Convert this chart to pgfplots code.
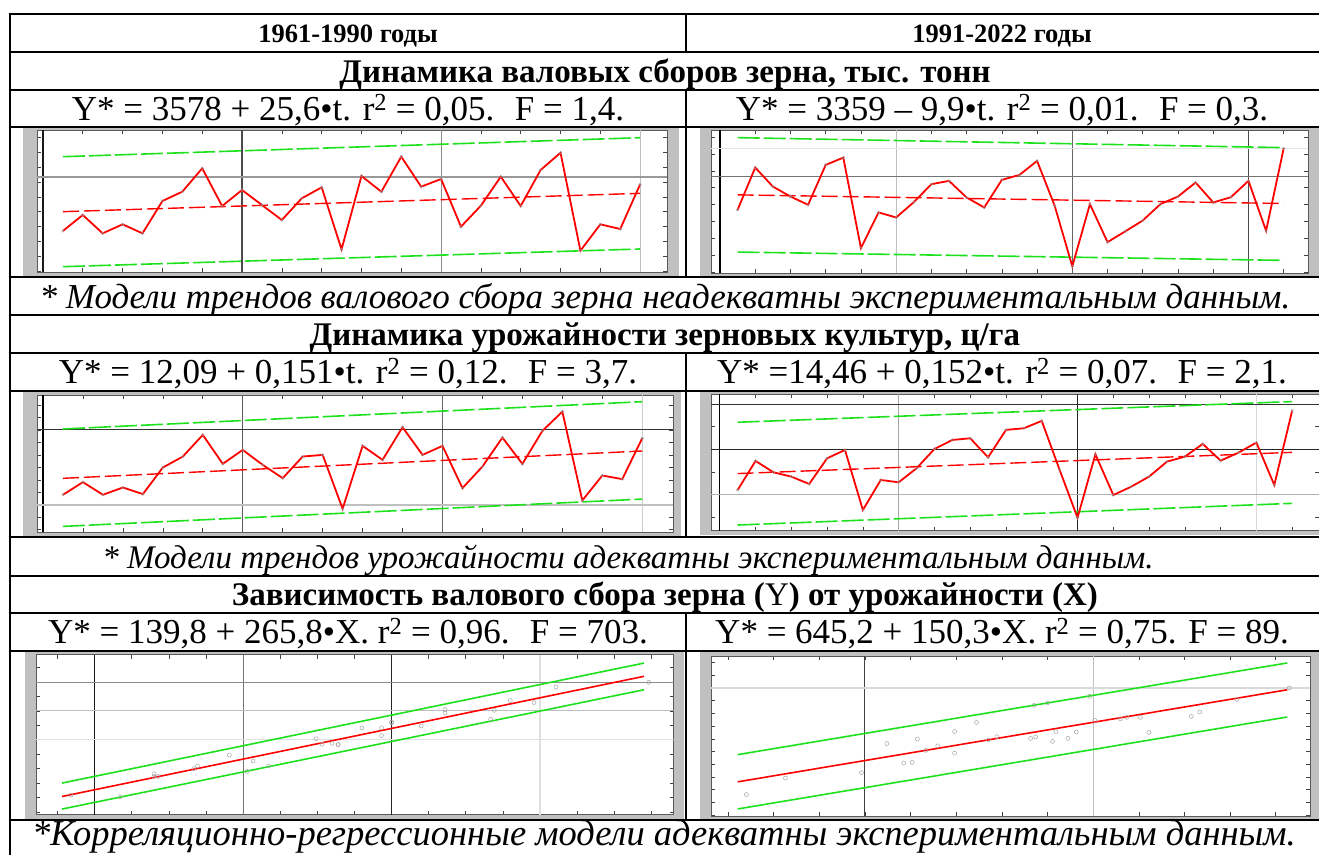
\documentclass[border=0pt]{standalone}
\usepackage{fontspec}
\setmainfont{Liberation Serif}
\usepackage{pgfplots}
\usepackage{pgfplotstable}
\pgfplotsset{compat=1.18}
\definecolor{gcol}{RGB}{30,225,30}
\definecolor{frm}{RGB}{192,192,192}

% 1961-1990: t, gross harvest Y (thous. t), yield X (c/ha)
\pgfplotstableread{
t Y X
1 2821 9.60
2 3469 11.63
3 2726 9.60
4 3091 10.77
5 2726 9.71
6 4036 13.97
7 4414 15.73
8 5359 19.20
9 3833 14.56
10 4481 16.80
11 3874 14.40
12 3266 12.27
13 4144 15.73
14 4589 16.00
15 2078 7.36
16 5048 17.44
17 4414 15.20
18 5831 20.43
19 4616 16.00
20 4927 17.44
21 2996 10.67
22 3847 14.13
23 5021 18.77
24 3833 14.56
25 5291 19.84
26 5993 22.93
27 2024 8.69
28 3091 12.69
29 2902 12.11
30 4711 18.67
}\tabA
% 1991-2022
\pgfplotstableread{
t Y X
1 2818 10.96
2 4317 17.41
3 3644 14.89
4 3290 13.93
5 2995 12.30
6 4411 18.00
7 4671 19.85
8 1461 6.52
9 2724 13.19
10 2547 12.67
11 3089 15.78
12 3727 20.07
13 3845 22.07
14 3255 22.44
15 2901 18.22
16 3880 24.30
17 4057 24.67
18 4553 26.30
19 2960 15.41
20 812 4.81
21 3019 18.89
22 1673 9.85
23 2051 11.70
24 2440 13.93
25 3019 17.26
26 3290 18.37
27 3786 21.19
28 3078 17.48
29 3266 19.26
30 3845 21.48
31 2075 12.07
32 5001 28.59
}\tabB

\pgfplotsset{
  mini/.style={scale only axis, anchor=north west,
    axis background/.style={fill=white},
    axis line style={draw=black!65, line width=0.9pt},
    tick style={draw=black!75, line width=0.6pt}, major tick length=4pt,
    xticklabels={}, yticklabels={}, clip=true},
  dat/.style={red, line width=1.8pt, mark=o, mark size=1.3pt,
    mark options={draw=gray!80, fill=white, line width=0.4pt, solid}},
  trend/.style={red, line width=1.4pt, dash pattern=on 16pt off 5pt},
  band/.style={gcol, line width=1.6pt, dash pattern=on 22pt off 4pt},
  rline/.style={red, line width=1.6pt},
  gline/.style={gcol, line width=1.6pt},
  scat/.style={only marks, mark=o, mark size=2pt, mark options={draw=gray!70, line width=0.5pt}},
  grd/.style={line width=1.1pt, forget plot},
}

\newcommand{\hd}{\fontsize{26.5}{30}\selectfont\bfseries}
\newcommand{\tl}{\fontsize{33}{36}\selectfont\bfseries}
\newcommand{\eqf}{\fontsize{35}{38}\selectfont}
\newcommand{\nta}{\fontsize{35}{40}\selectfont\itshape}
\newcommand{\ntb}{\fontsize{33}{40}\selectfont\itshape}
\newcommand{\ntc}{\fontsize{36.5}{40}\selectfont\itshape}

\begin{document}
\begin{tikzpicture}[x=1pt,y=1pt]
\useasboundingbox (0pt,0pt) rectangle (1319pt,-855pt);
\fill[white] (0pt,0pt) rectangle (1319pt,-855pt);

% ---------- chart frames ----------
\fill[frm] (23pt,-128pt) rectangle (679pt,-276pt);
\fill[frm] (700pt,-128pt) rectangle (1319pt,-277pt);
\fill[frm] (23pt,-391pt) rectangle (681pt,-536pt);
\fill[frm] (700pt,-392pt) rectangle (1319pt,-535pt);
\fill[frm] (25pt,-652pt) rectangle (684pt,-820pt);
\fill[frm] (700pt,-652pt) rectangle (1319pt,-820pt);

% ---------- C1 ----------
\begin{axis}[mini, at={(37pt,-130pt)}, width=630pt, height=142pt,
  xmin=-0.3, xmax=31.35, ymin=1160, ymax=6912, xtick distance=2, ytick distance=600]
\addplot[grd, black!90] coordinates {(0,1160) (0,6912)};
\addplot[grd, black!70] coordinates {(10,1160) (10,6912)};
\addplot[grd, black!45] coordinates {(20,1160) (20,6912)};
\addplot[grd, black!25] coordinates {(30,1160) (30,6912)};
\addplot[grd, black!40, line width=1.5pt] coordinates {(-0.3,5000) (31.35,5000)};
\addplot[band] coordinates {(1,5831) (30,6601)};
\addplot[band] coordinates {(1,1376) (30,2092)};
\addplot[trend] coordinates {(1,3604) (30,4346)};
\addplot[dat] table[x=t, y=Y] {\tabA};
\end{axis}

% ---------- C2 ----------
\begin{axis}[mini, at={(711pt,-130pt)}, width=597pt, height=143pt,
  xmin=-0.51, xmax=33.38, ymin=576, ymax=5650, xtick distance=2, ytick distance=600]
\addplot[grd, black] coordinates {(0,576) (0,5650)};
\addplot[grd, black!25] coordinates {(10,576) (10,5650)};
\addplot[grd, black!60] coordinates {(20,576) (20,5650)};
\addplot[grd, black!70] coordinates {(30,576) (30,5650)};
\addplot[grd, black!55, line width=1.5pt] coordinates {(-0.51,4000) (33.38,4000)};
\addplot[grd, black!10] coordinates {(-0.51,5000) (33.38,5000)};
\addplot[band] coordinates {(1,5379) (32,5025)};
\addplot[band] coordinates {(1,1319) (32,1024)};
\addplot[trend] coordinates {(1,3349) (32,3042)};
\addplot[dat] table[x=t, y=Y] {\tabB};
\end{axis}

% ---------- C3 ----------
\begin{axis}[mini, at={(37pt,-395pt)}, width=636pt, height=137pt,
  xmin=-0.3, xmax=31.54, ymin=3.63, ymax=25.6, xtick distance=2, ytick distance=2]
\addplot[grd, black] coordinates {(0,3.63) (0,25.6)};
\addplot[grd, black!65] coordinates {(10,3.63) (10,25.6)};
\addplot[grd, black!60] coordinates {(20,3.63) (20,25.6)};
\addplot[grd, black!20] coordinates {(30,3.63) (30,25.6)};
\addplot[grd, black!80] coordinates {(-0.3,20) (31.54,20)};
\addplot[grd, black!25, line width=1.8pt] coordinates {(-0.3,8) (31.54,8)};
\addplot[band] coordinates {(1,20.15) (30,24.53)};
\addplot[band] coordinates {(1,4.53) (30,8.91)};
\addplot[trend] coordinates {(1,12.24) (30,16.62)};
\addplot[dat] table[x=t, y=X] {\tabA};
\end{axis}

% ---------- C4 ----------
\begin{axis}[mini, at={(711pt,-394.3pt)}, width=608pt, height=136.4pt,
  xmin=-0.49, xmax=33.5, ymin=1.93, ymax=32.2, xtick distance=2, ytick distance=5]
\addplot[grd, black] coordinates {(0,1.93) (0,32.2)};
\addplot[grd, black!35] coordinates {(10,1.93) (10,32.2)};
\addplot[grd, black!85] coordinates {(20,1.93) (20,32.2)};
\addplot[grd, black!15] coordinates {(30,1.93) (30,32.2)};
\addplot[grd, black!80] coordinates {(-0.49,30) (33.5,30)};
\addplot[grd, black!85] coordinates {(-0.49,20) (33.5,20)};
\addplot[grd, black!30] coordinates {(-0.49,10) (33.5,10)};
\addplot[band] coordinates {(1,26.0) (32,30.59)};
\addplot[band] coordinates {(1,3.19) (32,8.0)};
\addplot[trend] coordinates {(1,14.61) (32,19.32)};
\addplot[dat] table[x=t, y=X] {\tabB};
\end{axis}

% ---------- C5 ----------
\begin{axis}[mini, at={(36pt,-654.7pt)}, width=637.6pt, height=160pt,
  xmin=6.42, xmax=23.6, ymin=1400, ymax=6950, xtick distance=1, ytick distance=500]
\addplot[grd, black!90] coordinates {(8,1400) (8,6950)};
\addplot[grd, black!55] coordinates {(12,1400) (12,6950)};
\addplot[grd, black!85] coordinates {(16,1400) (16,6950)};
\addplot[grd, black!12] coordinates {(20,1400) (20,6950)};
\addplot[grd, black!45] coordinates {(6.42,6000) (23.6,6000)};
\addplot[grd, black!25] coordinates {(6.42,5000) (23.6,5000)};
\addplot[grd, black!12] coordinates {(6.42,4000) (23.6,4000)};
\addplot[gline] coordinates {(7.12,2497) (22.8,6659)};
\addplot[gline] coordinates {(7.12,1596) (22.8,5734)};
\addplot[rline] coordinates {(7.12,2032) (22.8,6200)};
\addplot[scat] table[x=X, y=Y] {\tabA};
\end{axis}

% ---------- C6 ----------
\begin{axis}[mini, at={(711pt,-656.3pt)}, width=599pt, height=160pt,
  xmin=3.26, xmax=29.5, ymin=-44, ymax=6245, xtick distance=2, ytick distance=500]
\addplot[grd, black!75] coordinates {(10,-44) (10,6245)};
\addplot[grd, black!25] coordinates {(20,-44) (20,6245)};
\addplot[grd, black!15] coordinates {(3.26,5000) (29.5,5000)};
\addplot[gline] coordinates {(4.43,2380) (28.5,5983)};
\addplot[gline] coordinates {(4.43,245) (28.5,3860)};
\addplot[rline] coordinates {(4.43,1311) (28.5,4929)};
\addplot[scat] table[x=X, y=Y] {\tabB};
\end{axis}

% ---------- table rules ----------
\foreach \yy in {14,52,90,127,277,315,353,391,537,576,613,651,820}
  \draw[line width=2.6pt] (8.7pt,-\yy pt) -- (1319pt,-\yy pt);
\draw[line width=2.6pt] (10pt,-12.7pt) -- (10pt,-855pt);
\draw[line width=2.6pt] (686pt,-14pt) -- (686pt,-52pt);
\draw[line width=2.6pt] (686pt,-90pt) -- (686pt,-277pt);
\draw[line width=2.6pt] (686pt,-353pt) -- (686pt,-537pt);
\draw[line width=2.6pt] (686pt,-613pt) -- (686pt,-820pt);

% ---------- texts ----------
\node[anchor=base, inner sep=0] at (348pt,-42pt) {\hd 1961-1990 годы};
\node[anchor=base, inner sep=0] at (1002pt,-42pt) {\hd 1991-2022 годы};

\node[anchor=base, inner sep=0] at (665pt,-82pt) {\tl Динамика валовых сборов зерна, тыс. тонн};
\node[anchor=base, inner sep=0] at (348pt,-120pt) {\eqf Y* = 3578 + 25,6•t. r\textsuperscript{2} = 0,05.~ F = 1,4.};
\node[anchor=base, inner sep=0] at (1002pt,-120pt) {\eqf Y* = 3359 – 9,9•t. r\textsuperscript{2} = 0,01.~ F = 0,3.};
\node[anchor=base, inner sep=0] at (665pt,-308pt) {\nta * Модели трендов валового сбора зерна неадекватны экспериментальным данным.};

\node[anchor=base, inner sep=0] at (665pt,-345pt) {\tl Динамика урожайности зерновых культур, ц/га};
\node[anchor=base, inner sep=0] at (348pt,-383.5pt) {\eqf Y* = 12,09 + 0,151•t. r\textsuperscript{2} = 0,12.~ F = 3,7.};
\node[anchor=base, inner sep=0] at (1002pt,-383.5pt) {\eqf Y* =14,46 + 0,152•t. r\textsuperscript{2} = 0,07.~ F = 2,1.};
\node[anchor=base, inner sep=0] at (628pt,-568pt) {\ntb * Модели трендов урожайности адекватны экспериментальным данным.};

\node[anchor=base, inner sep=0] at (665pt,-605.5pt) {\tl Зависимость валового сбора зерна (\textmd{Y}) от урожайности (X)};
\node[anchor=base, inner sep=0] at (348pt,-643.5pt) {\eqf Y* = 139,8 + 265,8•X. r\textsuperscript{2} = 0,96.~ F = 703.};
\node[anchor=base, inner sep=0] at (1002pt,-643.5pt) {\eqf Y* = 645,2 + 150,3•X. r\textsuperscript{2} = 0,75. F = 89.};
\node[anchor=base, inner sep=0] at (664pt,-845.5pt) {\ntc *Корреляционно-регрессионные модели адекватны экспериментальным данным.};
\end{tikzpicture}
\end{document}
